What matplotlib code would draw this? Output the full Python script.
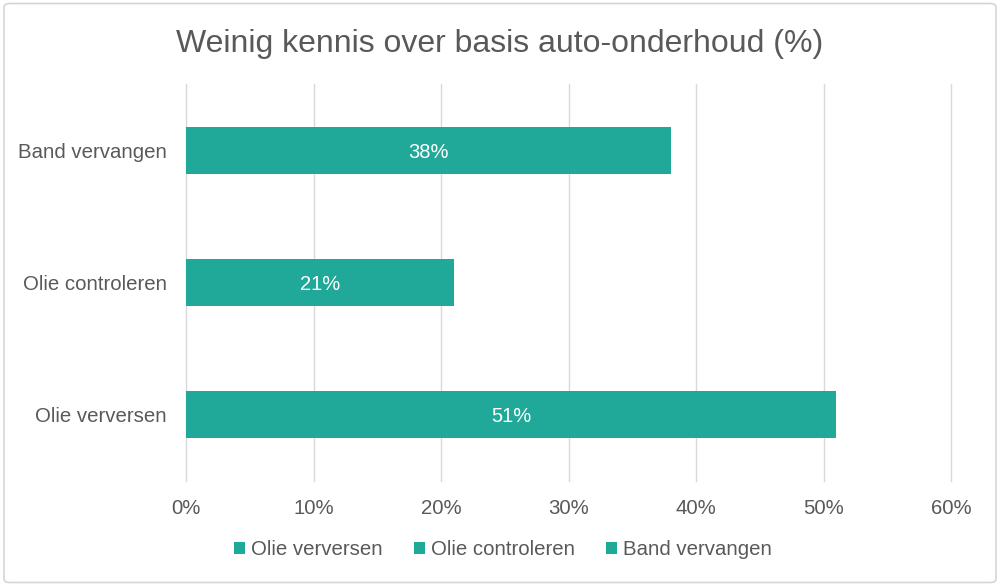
import numpy as np
import matplotlib.pyplot as plt
from matplotlib.patches import FancyBboxPatch

# ------------------------------------------------------------
# Data
# ------------------------------------------------------------

categories = ["Olie verversen", "Olie controleren", "Band vervangen"]
values = [51, 21, 38]
x_ticks = [0, 10, 20, 30, 40, 50, 60]

title = "Weinig kennis over basis auto-onderhoud (%)"

bar_color = "#20a898"
text_color = "#595959"
grid_color = "#d9d9d9"

plt.rcParams["font.family"] = ["Liberation Sans", "DejaVu Sans"]

# ------------------------------------------------------------
# Plot
# ------------------------------------------------------------

fig = plt.figure(figsize=(10, 5.86), dpi=100)
ax = fig.add_axes([0.186, 0.1792, 0.765, 0.6775])

# light frame round the whole chart
frame = FancyBboxPatch((0.004, 0.006), 0.992, 0.988,
                       boxstyle="round,pad=0,rounding_size=0.006",
                       transform=fig.transFigure, facecolor="white",
                       edgecolor="#d6d6d6", linewidth=1.2, zorder=-10)
fig.patches.append(frame)

y_pos = np.arange(len(categories))
for i, (cat, val) in enumerate(zip(categories, values)):
    ax.barh(y_pos[i], val, height=0.355, color=bar_color, label=cat, zorder=3)
    ax.text(val / 2, y_pos[i], f"{val}%", ha="center", va="center_baseline",
            color="white", fontsize=14.5, zorder=4)

ax.set_xlim(0, 60)
ax.set_ylim(-0.5, len(categories) - 0.5)
ax.set_xticks(x_ticks)
ax.set_xticklabels([f"{t}%" for t in x_ticks])
ax.set_yticks(y_pos)
ax.set_yticklabels(categories)

ax.tick_params(axis="both", length=0, labelsize=14.7, labelcolor=text_color)
ax.tick_params(axis="x", pad=13)
ax.tick_params(axis="y", pad=14)

ax.grid(axis="x", color=grid_color, linewidth=1, zorder=0)
for line in ax.get_xgridlines():
    line.set_clip_on(False)
for spine in ax.spines.values():
    spine.set_visible(False)

fig.text(0.5, 0.925, title, ha="center", va="center",
         fontsize=23, color=text_color)

handles, labels = ax.get_legend_handles_labels()
fig.legend(handles, labels, loc="center", bbox_to_anchor=(0.503, 0.062),
           ncol=3, frameon=False, fontsize=14.7, labelcolor=text_color,
           handlelength=0.55, handleheight=0.55, handletextpad=0.3,
           columnspacing=1.5)

fig.savefig("out.png", dpi=100)
